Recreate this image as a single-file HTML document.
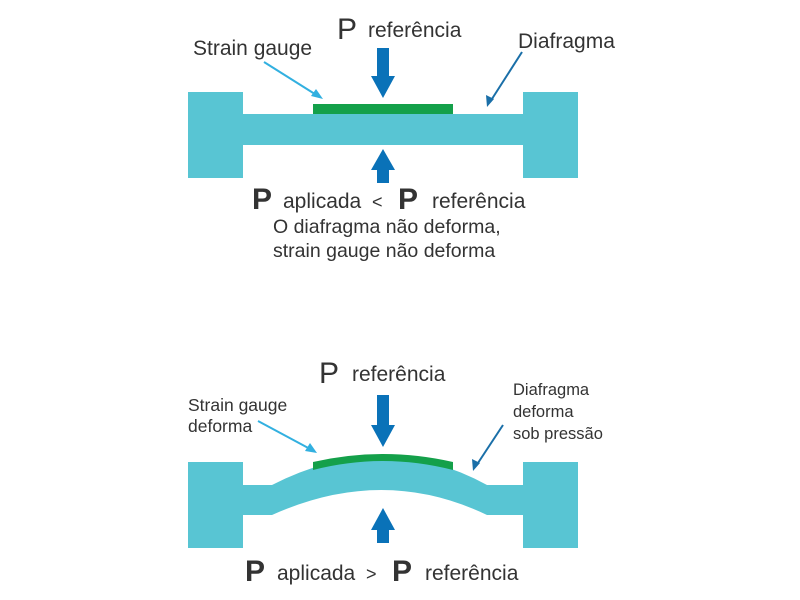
<!DOCTYPE html>
<html><head><meta charset="utf-8"><style>html,body{margin:0;padding:0;background:#fff}svg{display:block}</style></head>
<body>
<svg width="800" height="600" viewBox="0 0 800 600" xmlns="http://www.w3.org/2000/svg" font-family="Liberation Sans, Arial, sans-serif" fill="#333">
<!-- TOP -->
<rect x="188" y="92" width="55" height="86" fill="#58c5d3"/>
<rect x="523" y="92" width="55" height="86" fill="#58c5d3"/>
<rect x="240" y="114" width="286" height="31" fill="#58c5d3"/>
<rect x="313" y="104" width="140" height="10" fill="#14a04a"/>
<polygon points="377,48 389,48 389,76 395,76 383,98 371,76 377,76" fill="#0a72b8"/>
<polygon points="377,183 389,183 389,170 395,170 383,149 371,170 377,170" fill="#0a72b8"/>
<line x1="264" y1="62" x2="318" y2="96" stroke="#32b0e0" stroke-width="2"/>
<polygon points="323,99 311,96 316,89" fill="#32b0e0"/>
<line x1="522" y1="52" x2="490" y2="102" stroke="#1a6fa8" stroke-width="2"/>
<polygon points="487,107 486,95 494,99" fill="#1a6fa8"/>
<text x="337" y="39" font-size="30">P</text>
<text x="368" y="37" font-size="21">referência</text>
<text x="193" y="55" font-size="21">Strain gauge</text>
<text x="518" y="48" font-size="21">Diafragma</text>
<text x="252" y="209" font-size="30" font-weight="bold">P</text>
<text x="283" y="208" font-size="21">aplicada</text>
<text x="372" y="208" font-size="18">&lt;</text>
<text x="398" y="209" font-size="30" font-weight="bold">P</text>
<text x="432" y="208" font-size="21">referência</text>
<text x="273" y="233" font-size="19.5">O diafragma não deforma,</text>
<text x="273" y="257" font-size="19.5">strain gauge não deforma</text>
<!-- BOTTOM -->
<rect x="188" y="462" width="55" height="86" fill="#58c5d3"/>
<rect x="523" y="462" width="55" height="86" fill="#58c5d3"/>
<path d="M240,485 L272,485 Q383,428 487,485 L526,485 L526,515 L487,515 Q383,465 272,515 L240,515 Z" fill="#58c5d3"/>
<path d="M313,462 Q383,446 453,462 L453,470 Q383,452 313,470 Z" fill="#14a04a"/>
<polygon points="377,395 389,395 389,425 395,425 383,447 371,425 377,425" fill="#0a72b8"/>
<polygon points="377,543 389,543 389,530 395,530 383,508 371,530 377,530" fill="#0a72b8"/>
<line x1="258" y1="421" x2="312" y2="450" stroke="#32b0e0" stroke-width="2"/>
<polygon points="317,453 305,451 310,443" fill="#32b0e0"/>
<line x1="503" y1="425" x2="476" y2="466" stroke="#1a6fa8" stroke-width="2"/>
<polygon points="473,471 472,459 480,463" fill="#1a6fa8"/>
<text x="319" y="383" font-size="30">P</text>
<text x="352" y="381" font-size="21">referência</text>
<text x="188" y="411" font-size="17.5">Strain gauge</text>
<text x="188" y="432" font-size="17.5">deforma</text>
<text x="513" y="395" font-size="16.5">Diafragma</text>
<text x="513" y="417" font-size="16.5">deforma</text>
<text x="513" y="439" font-size="16.5">sob pressão</text>
<text x="245" y="581" font-size="30" font-weight="bold">P</text>
<text x="277" y="580" font-size="21">aplicada</text>
<text x="366" y="580" font-size="18">&gt;</text>
<text x="392" y="581" font-size="30" font-weight="bold">P</text>
<text x="425" y="580" font-size="21">referência</text>
</svg>
</body></html>
